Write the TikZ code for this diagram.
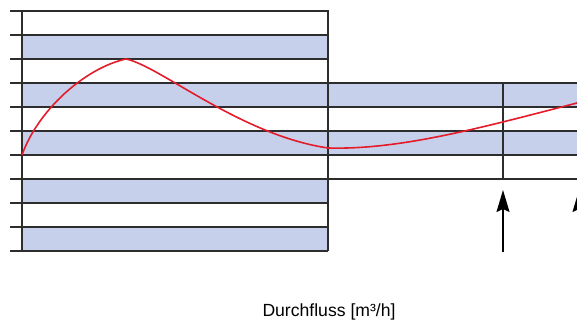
\documentclass[tikz,border=0pt]{standalone}
\usepackage{fontspec}
\setmainfont{Liberation Sans}
\usetikzlibrary{arrows.meta}
\definecolor{bandblue}{RGB}{199,208,234}
\definecolor{curvered}{RGB}{228,28,42}
\definecolor{gridgray}{RGB}{45,45,45}
\begin{document}
\begin{tikzpicture}[x=1pt,y=-1pt]
\tikzstyle{band}=[fill=bandblue]
\tikzstyle{grid}=[draw=gridgray,line width=1.2pt]
\tikzstyle{frame}=[draw=gridgray,line width=2pt]
\tikzstyle{curve}=[draw=curvered,line width=1.6pt]
\tikzstyle{pfeil}=[draw=black,line width=1.5pt,-{Stealth[length=22pt,width=13pt,inset=3pt]}]
\useasboundingbox (0,0) rectangle (577,320);
% bands
\foreach \y in {35,83,131,179,227}
  \fill[band] (22,\y) rectangle (328,\y+24);
\foreach \y in {83,131}
  \fill[band] (328,\y) rectangle (577,\y+24);
% lines of the left block, with ticks
\foreach \y in {35,59,...,227}
  \draw[grid] (10,\y) -- (328,\y);
\foreach \y in {107,131,155}
  \draw[grid] (328,\y) -- (577,\y);
\draw[grid] (503,83) -- (503,179);
% frame
\draw[frame] (10,11) -- (328,11) -- (328,251);
\draw[frame] (10,251) -- (328,251);
\draw[frame] (22,11) -- (22,251);
\draw[frame] (328,83) -- (577,83);
\draw[frame] (328,179) -- (577,179);
% curve
\draw[curve] (22,155) .. controls (38,110) and (85,68) .. (126,59)
  .. controls (160,66) and (240,135) .. (328,148)
  .. controls (400,150) and (480,128) .. (577,103);
% arrows
\coordinate (a1) at (503,252);
\coordinate (a1tip) at (503,190);
\coordinate (a2) at (579,252);
\coordinate (a2tip) at (579,190);
\draw[pfeil] (a1) -- (a1tip);
\draw[pfeil] (a2) -- (a2tip);
% label
\node[anchor=base,inner sep=0pt,font=\fontsize{17.6}{20}\selectfont] (lbl) at (329,316.5) {Durchfluss [m³/h]};
\end{tikzpicture}
\end{document}
